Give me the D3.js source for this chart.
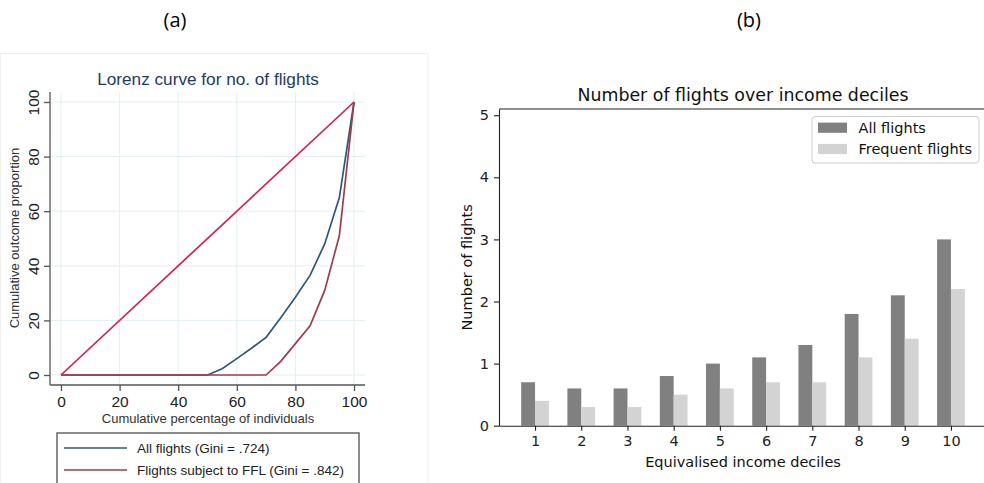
<!DOCTYPE html>
<html><head><meta charset="utf-8">
<script src="https://cdn.jsdelivr.net/npm/d3@7"></script>
<style>html,body{margin:0;padding:0;background:#fff;}svg{display:block;}</style>
</head><body>
<svg id="c" width="984" height="483"></svg>
<script>
// ---------- Data ----------
// (a) Lorenz curves
const lorenzPct      = [0, 50, 55, 60, 65, 70, 75, 80, 85, 90, 95, 100];
const lorenzAll      = [0, 0, 2.3, 6, 9.8, 13.8, 21, 28.5, 36.5, 48, 65, 100];
const lorenzFFL      = [0, 0, 0, 0, 0, 0, 5, 11.5, 18, 31, 51, 100];
const equalityLine   = [[0, 0], [100, 100]];
const lorenzTicks    = [0, 20, 40, 60, 80, 100];
const lorenzLegend   = ["All flights (Gini = .724)", "Flights subject to FFL (Gini = .842)"];

// (b) Bars
const deciles        = [1, 2, 3, 4, 5, 6, 7, 8, 9, 10];
const allFlights     = [0.7, 0.6, 0.6, 0.8, 1.0, 1.1, 1.3, 1.8, 2.1, 3.0];
const frequentFlights= [0.4, 0.3, 0.3, 0.5, 0.6, 0.7, 0.7, 1.1, 1.4, 2.2];
const barYTicks      = [0, 1, 2, 3, 4, 5];
const barLegend      = ["All flights", "Frequent flights"];

const svg = d3.select("#c");

// panel labels
const calib = "'Open Sans', 'Liberation Sans', sans-serif";
svg.append("text").attr("x", 175).attr("y", 27).attr("text-anchor", "middle")
  .style("font-family", calib).style("font-size", "20px").attr("fill", "#000").text("(a)");
svg.append("text").attr("x", 749).attr("y", 27).attr("text-anchor", "middle")
  .style("font-family", calib).style("font-size", "20px").attr("fill", "#000").text("(b)");

// ================= (a) =================
const A = svg.append("g");
const arial = "'Liberation Sans', Arial, sans-serif";
A.append("rect").attr("x", 0.5).attr("y", 53.5).attr("width", 427.5).attr("height", 440)
  .attr("fill", "#fff").attr("stroke", "#f0f0f0");

const ax = d3.scaleLinear().domain([0, 100]).range([61, 354]);
const ay = d3.scaleLinear().domain([0, 100]).range([375, 102]);
const aLeft = 50, aRight = 365, aTop = 92, aBottom = 385;

// grid
A.append("g").selectAll("line.v").data(lorenzTicks).join("line")
  .attr("x1", d => ax(d)).attr("x2", d => ax(d)).attr("y1", aTop).attr("y2", aBottom)
  .attr("stroke", "#e4eef0").attr("stroke-width", 1);
A.append("g").selectAll("line.h").data(lorenzTicks).join("line")
  .attr("y1", d => ay(d)).attr("y2", d => ay(d)).attr("x1", aLeft).attr("x2", aRight)
  .attr("stroke", "#e4eef0").attr("stroke-width", 1);

// axes
const xAxA = d3.axisBottom(ax).tickValues(lorenzTicks).tickSize(6).tickPadding(5).tickSizeOuter(0);
const gxA = A.append("g").attr("transform", `translate(0,${aBottom})`).call(xAxA);
gxA.select(".domain").remove();
gxA.append("line").attr("x1", aLeft).attr("x2", aRight).attr("y1", 0).attr("y2", 0).attr("stroke", "#555").attr("stroke-width", 1.3);
gxA.selectAll(".tick line").attr("stroke", "#555").attr("stroke-width", 1.3);
gxA.selectAll(".tick text").style("font-family", arial).style("font-size", "15.5px").attr("fill", "#222");

const yAxA = d3.axisLeft(ay).tickValues(lorenzTicks).tickSize(6).tickSizeOuter(0);
const gyA = A.append("g").attr("transform", `translate(${aLeft},0)`).call(yAxA);
gyA.select(".domain").remove();
gyA.append("line").attr("y1", aTop).attr("y2", aBottom).attr("x1", 0).attr("x2", 0).attr("stroke", "#555").attr("stroke-width", 1.3);
gyA.selectAll(".tick line").attr("stroke", "#555").attr("stroke-width", 1.3);
gyA.selectAll(".tick text")
  .attr("x", null).attr("dy", null)
  .attr("text-anchor", "middle")
  .attr("transform", "translate(-11,0) rotate(-90)")
  .attr("y", 0)
  .style("font-family", arial).style("font-size", "15.5px").attr("fill", "#222");

// lines
const lineA = d3.line().x(d => ax(d[0])).y(d => ay(d[1]));
const allPts = lorenzPct.map((p, i) => [p, lorenzAll[i]]);
const fflPts = lorenzPct.map((p, i) => [p, lorenzFFL[i]]);
A.append("path").datum(equalityLine).attr("d", lineA).attr("fill", "none").attr("stroke", "#d61f4e").attr("stroke-width", 1.7);
A.append("path").datum(allPts).attr("d", lineA).attr("fill", "none").attr("stroke", "#2f5778").attr("stroke-width", 1.7);
A.append("path").datum(fflPts).attr("d", lineA).attr("fill", "none").attr("stroke", "#9b3e4c").attr("stroke-width", 1.7);

// titles
A.append("text").attr("x", 208).attr("y", 85).attr("text-anchor", "middle")
  .style("font-family", arial).style("font-size", "17.2px").attr("fill", "#1e3a64").text("Lorenz curve for no. of flights");
A.append("text").attr("x", 208).attr("y", 423).attr("text-anchor", "middle")
  .style("font-family", arial).style("font-size", "13px").attr("fill", "#333").text("Cumulative percentage of individuals");
A.append("text").attr("transform", "translate(19,238) rotate(-90)").attr("text-anchor", "middle")
  .style("font-family", arial).style("font-size", "13px").attr("fill", "#333").text("Cumulative outcome proportion");

// legend
A.append("rect").attr("x", 57).attr("y", 433).attr("width", 302).attr("height", 70)
  .attr("fill", "#fff").attr("stroke", "#666").attr("stroke-width", 1.5);
const legColsA = ["#2f5778", "#9b3e4c"];
lorenzLegend.forEach((t, i) => {
  const yy = 448 + i * 22;
  A.append("line").attr("x1", 64).attr("x2", 127).attr("y1", yy).attr("y2", yy).attr("stroke", legColsA[i]).attr("stroke-width", 1.7);
  A.append("text").attr("x", 137).attr("y", yy + 5).style("font-family", arial).style("font-size", "13.5px").attr("fill", "#222").text(t);
});

// ================= (b) =================
const B = svg.append("g");
const dv = "'DejaVu Sans', sans-serif";
const bx = d3.scaleLinear().domain([0.22, 10.78]).range([499, 987]);
const by = d3.scaleLinear().domain([0, 5.1]).range([425.7, 109]);
const barW = 0.3;

B.selectAll("rect.all").data(deciles).join("rect")
  .attr("x", (d) => bx(d - barW)).attr("width", (d) => bx(d) - bx(d - barW))
  .attr("y", (d, i) => by(allFlights[i])).attr("height", (d, i) => by(0) - by(allFlights[i]))
  .attr("fill", "#808080");
B.selectAll("rect.freq").data(deciles).join("rect")
  .attr("x", (d) => bx(d)).attr("width", (d) => bx(d + barW) - bx(d))
  .attr("y", (d, i) => by(frequentFlights[i])).attr("height", (d, i) => by(0) - by(frequentFlights[i]))
  .attr("fill", "#d3d3d3");

const gxB = B.append("g").attr("transform", `translate(0,${by(0)})`)
  .call(d3.axisBottom(bx).tickValues(deciles).tickSize(5).tickPadding(5).tickSizeOuter(0));
gxB.select(".domain").attr("stroke", "#222").attr("stroke-width", 1.1);
gxB.selectAll(".tick line").attr("stroke", "#222").attr("stroke-width", 1.1);
gxB.selectAll(".tick text").style("font-family", dv).style("font-size", "14.5px").attr("fill", "#222");

const gyB = B.append("g").attr("transform", `translate(${bx(0.22)},0)`)
  .call(d3.axisLeft(by).tickValues(barYTicks).tickFormat(d3.format("d")).tickSize(5).tickPadding(5).tickSizeOuter(0));
gyB.select(".domain").attr("stroke", "#222").attr("stroke-width", 1.1);
gyB.selectAll(".tick line").attr("stroke", "#222").attr("stroke-width", 1.1);
gyB.selectAll(".tick text").style("font-family", dv).style("font-size", "14.5px").attr("fill", "#222");

// top & right spines
B.append("line").attr("x1", bx(0.22)).attr("x2", bx(10.78)).attr("y1", by(5.1)).attr("y2", by(5.1)).attr("stroke", "#222").attr("stroke-width", 1.1);
B.append("line").attr("x1", bx(10.78)).attr("x2", bx(10.78)).attr("y1", by(5.1)).attr("y2", by(0)).attr("stroke", "#222").attr("stroke-width", 1.1);

B.append("text").attr("x", 743).attr("y", 101).attr("text-anchor", "middle")
  .style("font-family", dv).style("font-size", "17.4px").attr("fill", "#111").text("Number of flights over income deciles");
B.append("text").attr("x", 743).attr("y", 467).attr("text-anchor", "middle")
  .style("font-family", dv).style("font-size", "14.5px").attr("fill", "#111").text("Equivalised income deciles");
B.append("text").attr("transform", `translate(472,${(by(0) + by(5.1)) / 2}) rotate(-90)`).attr("text-anchor", "middle")
  .style("font-family", dv).style("font-size", "14.5px").attr("fill", "#111").text("Number of flights");

// legend
B.append("rect").attr("x", 812).attr("y", 116.5).attr("width", 167).attr("height", 46.5).attr("rx", 3)
  .attr("fill", "#fff").attr("fill-opacity", 0.8).attr("stroke", "#cccccc").attr("stroke-width", 1);
const legColsB = ["#808080", "#d3d3d3"];
barLegend.forEach((t, i) => {
  const cy = 127.7 + i * 21.3;
  B.append("rect").attr("x", 818).attr("y", cy - 5.1).attr("width", 29).attr("height", 10.2).attr("fill", legColsB[i]);
  B.append("text").attr("x", 858.5).attr("y", cy + 5.2).style("font-family", dv).style("font-size", "14.5px").attr("fill", "#111").text(t);
});
</script>
</body></html>
